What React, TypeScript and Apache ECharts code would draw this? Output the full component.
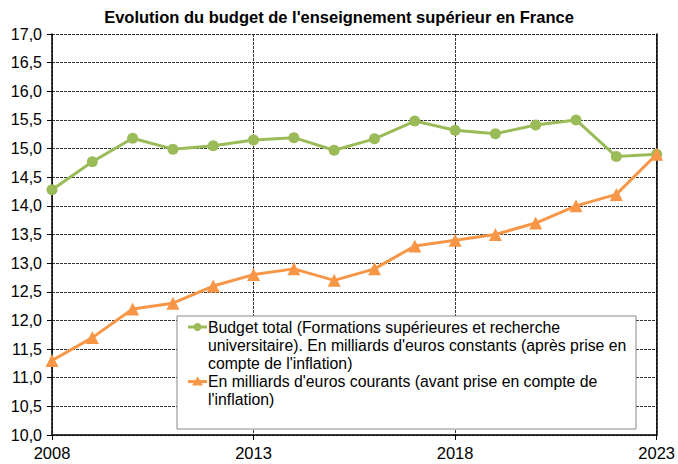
import React, { useEffect, useRef } from "react";
import * as echarts from "echarts";

const TITLE = "Evolution du budget de l'enseignement supérieur en France";
const YEARS = [2008, 2009, 2010, 2011, 2012, 2013, 2014, 2015, 2016, 2017, 2018, 2019, 2020, 2021, 2022, 2023];
const CONSTANT_EUROS = [14.28, 14.77, 15.18, 14.99, 15.05, 15.15, 15.19, 14.97, 15.17, 15.48, 15.32, 15.26, 15.41, 15.5, 14.86, 14.9];
const CURRENT_EUROS = [11.3, 11.7, 12.2, 12.3, 12.6, 12.8, 12.9, 12.7, 12.9, 13.3, 13.4, 13.5, 13.7, 14.0, 14.2, 14.9];
const NAME_CONSTANT_LINES = [
  "Budget total (Formations supérieures et recherche",
  "universitaire). En milliards d'euros constants (après prise en",
  "compte de l'inflation)",
];
const NAME_CURRENT_LINES = [
  "En milliards d'euros courants (avant prise en compte de",
  "l'inflation)",
];
const GREEN = "#9BBB59";
const ORANGE = "#F79646";
const FONT = "Liberation Sans, Arial, sans-serif";

export default function App() {
  const ref = useRef<HTMLDivElement>(null);
  useEffect(() => {
    if (!ref.current) return;
    const chart = echarts.init(ref.current, null, { renderer: "svg" });
    const lx = 177, ly = 316, lw = 459, lh = 113;
    const lineH = 18.2;
    const textX = 208;
    const firstY = 327;
    const legendEls: any[] = [
      { type: "rect", shape: { x: lx, y: ly, width: lw, height: lh }, style: { fill: "#fff", stroke: "#888", lineWidth: 1 }, z: 100 },
      { type: "line", shape: { x1: 188, y1: firstY, x2: 207, y2: firstY }, style: { stroke: GREEN, lineWidth: 3 }, z: 101 },
      { type: "circle", shape: { cx: 197.5, cy: firstY, r: 4 }, style: { fill: GREEN }, z: 101 },
      { type: "line", shape: { x1: 188, y1: firstY + 3 * lineH, x2: 207, y2: firstY + 3 * lineH }, style: { stroke: ORANGE, lineWidth: 3 }, z: 101 },
      { type: "polygon", shape: { points: [[197.5, firstY + 3 * lineH - 5], [192, firstY + 3 * lineH + 4], [203, firstY + 3 * lineH + 4]] }, style: { fill: ORANGE }, z: 101 },
    ];
    NAME_CONSTANT_LINES.concat(NAME_CURRENT_LINES).forEach((t, i) => {
      legendEls.push({
        type: "text",
        x: textX,
        y: firstY + i * lineH,
        style: { text: t, fill: "#000", font: `15.8px ${FONT}`, textVerticalAlign: "middle" },
        z: 102,
      });
    });
    chart.setOption({
      animation: false,
      backgroundColor: "#fff",
      title: {
        text: TITLE,
        left: "center",
        top: 3,
        textStyle: { fontFamily: FONT, fontSize: 16.5, fontWeight: "bold", color: "#000" },
      },
      grid: { left: 52, right: 21, top: 34, bottom: 29, containLabel: false },
      xAxis: {
        type: "value",
        min: 2008,
        max: 2023,
        interval: 5,
        axisLine: { show: true, lineStyle: { color: "#000", width: 1.5 } },
        axisTick: { show: true, length: 5, lineStyle: { color: "#000" } },
        axisLabel: { color: "#000", fontFamily: FONT, fontSize: 16.5, margin: 9, formatter: (v: number) => String(v) },
        splitLine: { show: true, lineStyle: { color: "#333", type: [3, 1], width: 1 } },
      },
      yAxis: [
        {
          type: "value",
          min: 10,
          max: 17,
          interval: 0.5,
          axisLine: { show: true, lineStyle: { color: "#000", width: 1.5 } },
          axisTick: { show: true, length: 5, lineStyle: { color: "#000" } },
          axisLabel: {
            color: "#000",
            fontFamily: FONT,
            fontSize: 16,
            margin: 10,
            formatter: (v: number) => v.toFixed(1).replace(".", ","),
          },
          splitLine: { show: true, lineStyle: { color: "#333", type: [3, 1], width: 1 } },
        },
        {
          type: "value",
          min: 10,
          max: 17,
          interval: 0.5,
          position: "right",
          axisLine: { show: true, lineStyle: { color: "#000", width: 1.5 } },
          axisTick: { show: false },
          axisLabel: { show: false },
          splitLine: { show: false },
        },
      ],
      series: [
        {
          name: NAME_CONSTANT_LINES.join(" "),
          type: "line",
          data: YEARS.map((y, i) => [y, CONSTANT_EUROS[i]]),
          symbol: "circle",
          symbolSize: 11,
          lineStyle: { color: GREEN, width: 3 },
          itemStyle: { color: GREEN },
          z: 3,
        },
        {
          name: NAME_CURRENT_LINES.join(" "),
          type: "line",
          data: YEARS.map((y, i) => [y, CURRENT_EUROS[i]]),
          symbol: "triangle",
          symbolSize: 13,
          lineStyle: { color: ORANGE, width: 3 },
          itemStyle: { color: ORANGE },
          z: 4,
        },
      ],
      graphic: legendEls,
    });
    return () => chart.dispose();
  }, []);
  return <div ref={ref} style={{ position: "fixed", left: 0, top: 0, width: 678, height: 464 }} />;
}
